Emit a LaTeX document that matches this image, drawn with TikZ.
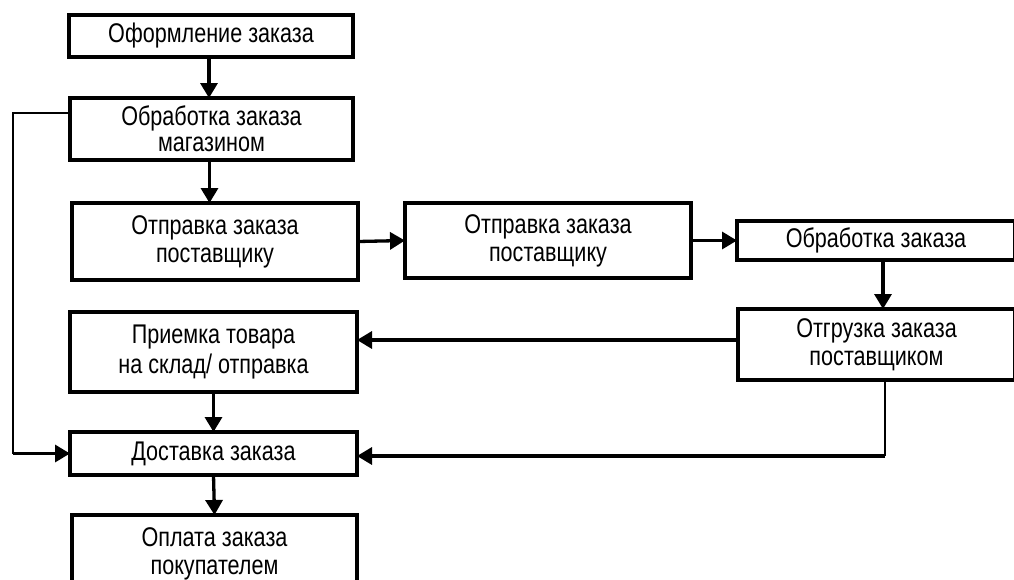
\documentclass[tikz,border=0pt]{standalone}
\usepackage{fontspec}
\setmainfont{Liberation Sans}[FakeStretch=0.80]
\usetikzlibrary{arrows.meta}
\tikzset{
  box/.style={draw=black, line width=3.3pt, fill=white, inner sep=0pt, outer sep=0pt,
    align=center, font=\fontsize{27pt}{28pt}\selectfont},
  flow/.style={line width=3.3pt, -{Triangle[length=15pt,width=17pt]}},
  thinline/.style={line width=1.3pt}
}
\begin{document}
\begin{tikzpicture}[x=1pt,y=-1pt]
\useasboundingbox (0,0) rectangle (1014,579);
\clip (0,0) rectangle (1014,579);
% boxes
\node[box, minimum width=284pt, minimum height=42pt] (b1) at (211,36) {Оформление заказа};
\node[box, minimum width=283pt, minimum height=62pt, font=\fontsize{27pt}{26pt}\selectfont] (b2) at (211.5,129) {Обработка заказа\\магазином};
\node[box, minimum width=286pt, minimum height=77pt] (b3) at (215,241.5) {Отправка заказа\\поставщику};
\node[box, minimum width=286pt, minimum height=75pt] (b7) at (548,240.5) {Отправка заказа\\поставщику};
\node[box, minimum width=278pt, minimum height=39pt] (b8) at (876,240.5) {Обработка заказа};
\node[box, minimum width=277pt, minimum height=71pt] (b9) at (876.5,344.5) {Отгрузка заказа\\поставщиком};
\node[box, minimum width=287pt, minimum height=80pt, font=\fontsize{27pt}{30pt}\selectfont] (b4) at (213.5,352) {Приемка товара\\на склад/ отправка};
\node[box, minimum width=287pt, minimum height=43pt] (b5) at (213.5,453.5) {Доставка заказа};
\node[box, minimum width=285pt, minimum height=77pt] (b6) at (214.5,553.5) {Оплата заказа\\покупателем};
% main flow
\draw[flow] ([xshift=-2pt]b1.south) -- ([xshift=-2pt]b1.south |- b2.north);
\draw[flow] ([xshift=-2pt]b2.south) -- ([xshift=-2pt]b2.south |- b3.north);
\draw[flow] (b3.east) -- (b7.west);
\draw[flow] (b7.east) -- (b8.west);
\draw[flow] ([xshift=7pt]b8.south) -- ([xshift=7pt]b8.south |- b9.north);
\draw[flow] ([yshift=4.5pt]b9.west) -- ([yshift=4.5pt]b9.west -| b4.east);
\draw[flow] (b4.south) -- (b5.north);
\draw[flow] (b5.south) -- (b6.north);
% left feedback
\coordinate (lt) at (13,113);
\draw[thinline] (lt -| b2.west) -- (lt) -- (lt |- b5.west);
\draw[flow] (lt |- b5.west) -- (b5.west);
% right feedback
\coordinate (rt) at (885,456);
\draw[thinline] (rt |- b9.south) -- (rt);
\draw[flow] (rt) -- (rt -| b5.east);
\end{tikzpicture}
\end{document}
